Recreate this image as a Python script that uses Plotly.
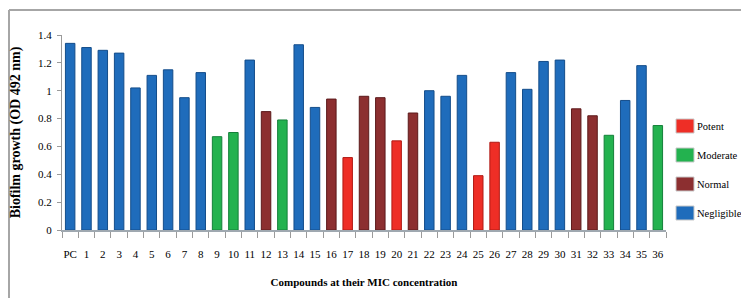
import plotly.graph_objects as go

categories = ["PC"] + [str(i) for i in range(1, 37)]
values = [1.34, 1.31, 1.29, 1.27, 1.02, 1.11, 1.15, 0.95, 1.13, 0.67,
          0.70, 1.22, 0.85, 0.79, 1.33, 0.88, 0.94, 0.52, 0.96, 0.95,
          0.64, 0.84, 1.00, 0.96, 1.11, 0.39, 0.63, 1.13, 1.01, 1.21,
          1.22, 0.87, 0.82, 0.68, 0.93, 1.18, 0.75]
groups = ["Negligible"] * 9 + ["Moderate", "Moderate", "Negligible", "Normal",
          "Moderate", "Negligible", "Negligible", "Normal", "Potent", "Normal",
          "Normal", "Potent", "Normal", "Negligible", "Negligible", "Negligible",
          "Potent", "Potent", "Negligible", "Negligible", "Negligible", "Negligible",
          "Normal", "Normal", "Moderate", "Negligible", "Negligible", "Moderate"]
legend_order = ["Potent", "Moderate", "Normal", "Negligible"]
fill = {"Potent": "#ee2e26", "Moderate": "#23b24f", "Normal": "#8c2f30", "Negligible": "#1f6cbb"}
edge = {"Potent": "#b01a14", "Moderate": "#14803a", "Normal": "#5c1a1b", "Negligible": "#144d8a"}

SERIF = "Liberation Serif"

fig = go.Figure()
fig.add_trace(go.Bar(
    x=categories, y=values,
    marker=dict(color=[fill[g] for g in groups],
                line=dict(color=[edge[g] for g in groups], width=1)),
    width=0.58, showlegend=False,
))

# page has an 8px body margin: figure spans page x 8..749, y 8..298
OFF = 8
W, H = 749 - OFF, 298 - OFF
L, R, T, B = 62 - OFF, 83, 35 - OFF, 68
pw, ph = W - L - R, H - T - B

def px(x):  # page pixel -> paper
    return (x - OFF - L) / pw

def py(y):
    return (H - B - (y - OFF)) / ph

shapes = []
annotations = []
# manual legend
for i, name in enumerate(legend_order):
    yc = 126 + i * 29
    shapes.append(dict(type="rect", xref="paper", yref="paper",
                       x0=px(676), x1=px(694), y0=py(yc + 7), y1=py(yc - 7),
                       fillcolor=fill[name], line=dict(color="#c8c8c8", width=1)))
    annotations.append(dict(text=name, xref="paper", yref="paper",
                            x=px(696), y=py(yc), xanchor="left", yanchor="middle",
                            showarrow=False, borderpad=0,
                            font=dict(family=SERIF, size=10.5, color="#000")))
# outer frame
shapes.append(dict(type="line", xref="paper", yref="paper",
                   x0=px(9), x1=px(760), y0=py(10), y1=py(10),
                   line=dict(color="#a6a6a6", width=2)))
shapes.append(dict(type="line", xref="paper", yref="paper",
                   x0=px(9), x1=px(9), y0=py(10), y1=py(310),
                   line=dict(color="#a6a6a6", width=2)))

fig.update_layout(
    width=W, height=H,
    margin=dict(l=L, r=R, t=T, b=B, autoexpand=False),
    paper_bgcolor="white", plot_bgcolor="white",
    font=dict(family=SERIF, size=11, color="#000"),
    shapes=shapes, annotations=annotations,
    bargap=0.42,
)
fig.update_xaxes(
    type="category", showline=True, linecolor="#9fa8b0", linewidth=1.5,
    ticks="outside", tickson="boundaries", ticklen=6, tickcolor="#9a9a9a",
    ticklabelstandoff=13, showgrid=False, tickangle=0, automargin=False,
    title=dict(text="<b>Compounds at their MIC concentration</b>", standoff=19,
               font=dict(family=SERIF, size=11)),
    tickfont=dict(family=SERIF, size=11),
)
fig.update_yaxes(
    range=[0, 1.4], tickvals=[0, 0.2, 0.4, 0.6, 0.8, 1, 1.2, 1.4],
    ticktext=["0", "0.2", "0.4", "0.6", "0.8", "1", "1.2", "1.4"],
    showline=True, linecolor="#9a9a9a", linewidth=1, automargin=False,
    ticks="outside", ticklen=4, tickcolor="#9a9a9a", showgrid=False, zeroline=False,
    ticklabelstandoff=3,
    title=dict(text="<b>Biofilm growth (OD 492 nm)</b>", standoff=14,
               font=dict(family=SERIF, size=14)),
    tickfont=dict(family=SERIF, size=11),
)

fig.write_html("out.html")
